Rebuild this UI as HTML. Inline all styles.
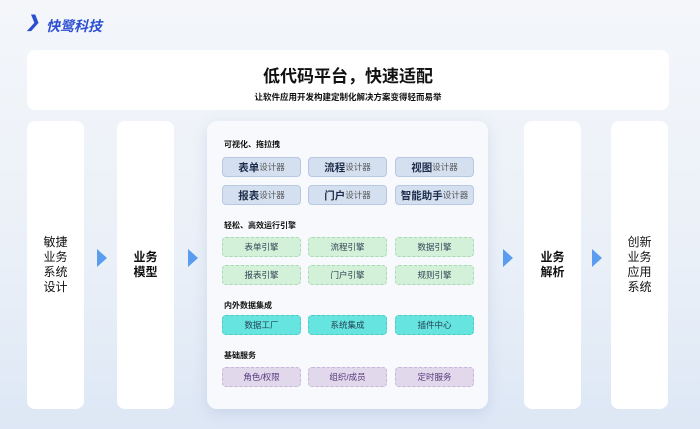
<!DOCTYPE html>
<html><head><meta charset="utf-8"><style>
*{margin:0;padding:0;box-sizing:border-box}
body{width:700px;height:429px;overflow:hidden;position:relative;font-family:"Liberation Sans","Noto Sans CJK SC",sans-serif;background:linear-gradient(180deg,#f4f6fa 0%,#eaf0f8 60%,#dde7f5 100%);color:#111}
.card{position:absolute;background:#fff;border-radius:8px}
.side{display:flex;align-items:center;justify-content:center;text-align:center;font-size:12px;line-height:15px}
.arrow{position:absolute;width:0;height:0;border-top:9px solid transparent;border-bottom:9px solid transparent;border-left:10px solid #5a9cf0;top:249px}
.t{position:absolute;left:224px;font-size:8px;font-weight:bold}
.b{position:absolute;width:79px;height:20px;border-radius:4px;display:flex;align-items:center;justify-content:center;font-size:8.5px}
.bl{background:#d4e0f0;border:1px solid #b6c8e2;color:#555}
.bl b{font-size:10.5px;color:#1e2c4a}
.gr{background:#d3f0d9;border:1px dashed #a9dab5;color:#345}
.cy{background:#66e4e0;border:1px dashed #4ccac6;color:#245}
.pu{background:#e2d8ec;border:1px dashed #c7b6d8;color:#553a7a}
</style></head><body>
<div style="position:absolute;left:26px;top:14px;width:14px;height:18px;font-size:16px;color:#2b4fd0;font-style:italic;font-weight:bold;line-height:18px">❯</div>
<div style="position:absolute;left:46px;top:16px;font-size:14px;font-weight:bold;font-style:italic;color:#2b4fd0">快鹭科技</div>
<div class="card" style="left:27px;top:50px;width:642px;height:60px;text-align:center">
<div style="font-size:17px;font-weight:bold;margin-top:12px">低代码平台，快速适配</div>
<div style="font-size:8.5px;font-weight:bold;margin-top:4px">让软件应用开发构建定制化解决方案变得轻而易举</div></div>
<div class="card side" style="left:27px;top:121px;width:57px;height:288px">敏捷<br>业务<br>系统<br>设计</div>
<div class="card side" style="left:117px;top:121px;width:57px;height:288px;font-weight:bold">业务<br>模型</div>
<div class="card side" style="left:524px;top:121px;width:57px;height:288px;font-weight:bold">业务<br>解析</div>
<div class="card side" style="left:611px;top:121px;width:57px;height:288px">创新<br>业务<br>应用<br>系统</div>
<div class="arrow" style="left:97px"></div><div class="arrow" style="left:188px"></div><div class="arrow" style="left:503px"></div><div class="arrow" style="left:592px"></div>
<div class="card" style="left:207px;top:121px;width:281px;height:288px;background:#f8f9fc;border-radius:10px;box-shadow:0 4px 14px rgba(150,170,210,.3)"></div>
<div class="t" style="top:139px">可视化、拖拉拽</div>
<div class="b bl" style="left:222px;top:157px"><b>表单</b>设计器</div>
<div class="b bl" style="left:308px;top:157px"><b>流程</b>设计器</div>
<div class="b bl" style="left:395px;top:157px"><b>视图</b>设计器</div>
<div class="b bl" style="left:222px;top:185px"><b>报表</b>设计器</div>
<div class="b bl" style="left:308px;top:185px"><b>门户</b>设计器</div>
<div class="b bl" style="left:395px;top:185px"><b>智能助手</b>设计器</div>
<div class="t" style="top:220px">轻松、高效运行引擎</div>
<div class="b gr" style="left:222px;top:237px">表单引擎</div>
<div class="b gr" style="left:308px;top:237px">流程引擎</div>
<div class="b gr" style="left:395px;top:237px">数据引擎</div>
<div class="b gr" style="left:222px;top:265px">报表引擎</div>
<div class="b gr" style="left:308px;top:265px">门户引擎</div>
<div class="b gr" style="left:395px;top:265px">规则引擎</div>
<div class="t" style="top:300px">内外数据集成</div>
<div class="b cy" style="left:222px;top:315px">数据工厂</div>
<div class="b cy" style="left:308px;top:315px">系统集成</div>
<div class="b cy" style="left:395px;top:315px">插件中心</div>
<div class="t" style="top:350px">基础服务</div>
<div class="b pu" style="left:222px;top:367px">角色/权限</div>
<div class="b pu" style="left:308px;top:367px">组织/成员</div>
<div class="b pu" style="left:395px;top:367px">定时服务</div>
</body></html>
